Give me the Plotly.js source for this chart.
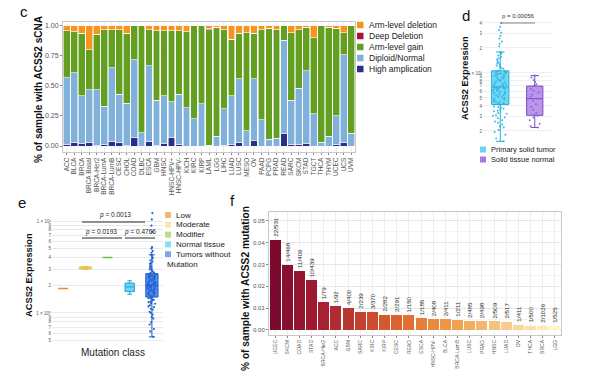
<!DOCTYPE html>
<html><head><meta charset="utf-8">
<script src="https://cdn.plot.ly/plotly-3.0.1.min.js"></script>
<style>html,body{margin:0;padding:0;background:#fff}#chart{width:593px;height:381px}</style>
</head><body><div id="chart"></div>
<script>
// ================= Panel c : sCNA fractions =================
const cnaCancers = ['ACC','BLCA','BRCA','BRCA Basal','BRCA-Her2','BRCA-LumA','BRCA-LumB','CESC','CHOL','COAD','DLBC','ESCA','GBM','HNSC','HNSC-HPV+','HNSC-HPV-','KICH','KIRC','KIRP','LAML','LGG','LIHC','LUAD','LUSC','MESO','OV','PAAD','PCPG','PRAD','READ','SARC','SKCM','STAD','TGCT','THCA','THYM','UCEC','UCS','UVM'];
const highAmp = [0.01,0.03,0.02,0.03,0.005,0.01,0.04,0.03,0.005,0.07,0,0.04,0.005,0.02,0.07,0.015,0,0,0,0,0,0.005,0.01,0.03,0,0.045,0,0,0,0.10,0.015,0.015,0.02,0,0,0,0.015,0.03,0];
const diploid = [0.56,0.58,0.40,0.44,0.465,0.32,0.61,0.40,0.35,0.65,0.11,0.63,0.375,0.40,0.30,0.415,0.32,0.225,0.35,0.005,0.08,0.305,0.41,0.53,0.125,0.515,0.22,0.055,0.065,0.78,0.365,0.465,0.605,0.27,0.03,0.08,0.235,0.73,0.105];
const armGain = [0.39,0.34,0.52,0.33,0.46,0.64,0.32,0.54,0.585,0.28,0.89,0.30,0.58,0.54,0.59,0.53,0.63,0.775,0.65,0.965,0.91,0.66,0.47,0.38,0.82,0.38,0.75,0.925,0.905,0.12,0.565,0.49,0.365,0.63,0.97,0.91,0.73,0.185,0.895];
const deepDel = [0,0,0,0,0,0,0,0,0,0,0,0,0,0,0,0,0,0,0,0.01,0,0,0,0,0,0,0,0,0,0,0,0,0,0,0,0,0,0,0];
const armDel  = [0.04,0.05,0.06,0.20,0.07,0.03,0.03,0.03,0.06,0,0,0.03,0.04,0.04,0.04,0.04,0.05,0,0,0.02,0.01,0.03,0.11,0.06,0.055,0.06,0.03,0.02,0.03,0,0.055,0.03,0.01,0.10,0,0.01,0.02,0.055,0];
const cnaNames = ['High amplication','Diploid/Normal','Arm-level gain','Deep Deletion','Arm-level deletion'];

// ================= Panel d : expression tumor vs normal =================
const dGroups = ['Primary solid tumor','Solid tissue normal'];
const dTumor = [1.5,1.62,1.8,1.95,2.05,2.2,2.28,2.4,2.52,2.6,2.7,2.85,2.9,3.05,3.1,3.22,3.3,3.45,3.5,3.62,3.7,3.8,3.88,3.95,4.1,
  4.25,4.3,4.45,4.5,4.62,4.8,4.85,5.0,5.1,5.2,5.35,5.4,5.55,5.6,5.75,5.9,5.95,6.1,6.2,6.3,6.4,6.5,6.55,6.6,6.7,
  6.85,7.0,7.1,7.25,7.4,7.5,7.7,7.9,8.0,8.2,8.35,8.6,8.8,8.9,9.1,9.3,9.5,9.6,9.7,9.9,10.0,10.1,10.2,10.4,10.5,
  10.7,11.2,11.5,11.9,12.3,12.6,13.1,13.4,13.9,14.5,15.0,15.6,16.2,16.8,17.4,17.9,21,22.5,24,26,28,30.5,33,36,40];
const dNormal = [2.2,2.3,2.45,2.7,2.9,3.05,3.1,3.3,3.6,3.9,4.2,4.6,4.9,5.2,5.5,5.8,6.1,6.4,6.9,7.1,7.3,7.8,8.2,8.8,9.3];
const dPValue = '0.00056';
const dTickVals = [2,3,4,5,6,7,8,9,10,20,30,40];
const dTickText = ['2','3','4','5','6','7','8','9','1 × 10¹','2','3','4'];

// ================= Panel e : expression by mutation class =================
const eClasses = ['Low','Moderate','Modifier','Normal tissue','Tumors without Mutation'];
const eLow = [1.85];
const eModerate = [2.98,3.06,3.12,3.2];
const eModifier = [4.0];
const eNormal = [1.6,1.64,1.69,1.76,1.86,1.92,1.99,2.06,2.13,2.18,2.24];
const eTumor = [0.55,0.63,0.67,0.75,0.79,0.87,0.9,0.96,1.0,1.03,1.09,1.11,1.16,1.18,1.21,1.26,1.27,1.31,1.33,1.35,1.39,1.4,1.44,1.45,1.48,
  1.5,1.53,1.54,1.58,1.6,1.61,1.65,1.67,1.69,1.73,1.74,1.76,1.8,1.81,1.83,1.87,1.88,1.9,1.93,1.94,1.96,1.97,1.98,1.99,2.0,
  2.02,2.06,2.07,2.11,2.12,2.17,2.19,2.21,2.26,2.27,2.32,2.33,2.38,2.39,2.43,2.44,2.49,2.5,2.53,2.54,2.58,2.59,2.62,2.63,2.65,
  2.71,2.75,2.83,2.89,2.98,3.04,3.13,3.21,3.28,3.42,3.49,3.63,3.74,3.9,3.98,4.16,4.29,4.52,4.73,5.02,5.2,7.6,8.9,10.4,12.2];
const ePValues = ['0.0013','0.0193','0.4766'];
const eTickVals = [0.5,0.6,0.7,0.8,0.9,1,2,3,4,5,6,7,8,9,10];
const eTickText = ['5','6','7','8','9','1 × 10⁰','2','3','4','5','6','7','8','9','1 × 10¹'];

// ================= Panel f : mutation frequency =================
const mutCancers = ['UCEC','SKCM','COAD','STAD','BRCA-Her2','ACC','GBM','SARC','KIRC','KIRP','CESC','READ','ESCA','HNSC-HPV-','BLCA','BRCA-LumB','LUSC','PRAD','HNSC','LUAD','OV','THCA','BRCA','LGG'];
const mutCounts = [22,14,11,10,1,1,4,2,3,2,2,1,1,2,2,1,2,2,2,2,1,1,2,1];
const mutTotals = [531,468,406,439,79,92,400,239,370,282,291,150,185,408,411,211,485,498,509,517,411,500,1026,525];

// ---------------- helpers ----------------
const W = 593, H = 381;
const px = x => x / W, py = y => 1 - y / H;
const shapes = [], annotations = [];
function ann(text, x, y, o) {
  annotations.push(Object.assign({xref:'paper', yref:'paper', x:px(x), y:py(y), text:text, showarrow:false,
    xanchor:'center', yanchor:'middle', font:{size:8, color:'#222'}}, o || {}));
}
function hline(x0, x1, y, color, w) {
  shapes.push({type:'line', xref:'paper', yref:'paper', x0:px(x0), x1:px(x1), y0:py(y), y1:py(y), line:{color:color, width:w}});
}
function legendBlock(names, colors, x, y0, dy, sq, fs) {
  names.forEach((n, i) => {
    const yc = y0 + i * dy;
    shapes.push({type:'rect', xref:'paper', yref:'paper', x0:px(x), x1:px(x + sq), y0:py(yc + sq / 2), y1:py(yc - sq / 2), fillcolor:colors[i], line:{width:0}});
    ann(n, x + sq + 3, yc, {xanchor:'left', font:{size:fs, color:'#222'}});
  });
}
function lerpColor(stops, t) {
  for (let i = 0; i < stops.length - 1; i++) {
    const [t0, c0] = stops[i], [t1, c1] = stops[i + 1];
    if (t >= t0 && t <= t1) {
      const f = (t - t0) / (t1 - t0);
      const a = [1,3,5].map(k => parseInt(c0.substr(k, 2), 16));
      const b = [1,3,5].map(k => parseInt(c1.substr(k, 2), 16));
      return 'rgb(' + a.map((v, j) => Math.round(v + (b[j] - v) * f)).join(',') + ')';
    }
  }
  return stops[stops.length - 1][1];
}

const traces = [];
const FONT = 'Liberation Sans, Arial, sans-serif';

// ---- panel c traces ----
const cSeries = [highAmp, diploid, armGain, deepDel, armDel];
const cColors = ['#2B2F8A', '#7FB1DA', '#63A021', '#A8123E', '#F7941D'];
cSeries.forEach((v, i) => traces.push({type:'bar', x:cnaCancers, y:v, name:cnaNames[i], xaxis:'x', yaxis:'y',
  marker:{color:cColors[i], line:{color:'#ffffff', width:0.6}}, hoverinfo:'skip'}));

// ---- panel d traces ----
traces.push({type:'box', y:dTumor, x0:0, name:dGroups[0], xaxis:'x2', yaxis:'y2', width:0.5,
  boxpoints:'all', jitter:0.9, pointpos:0, fillcolor:'rgba(88,208,243,0.85)', line:{color:'#22AEDD', width:1},
  marker:{color:'#25B3E2', size:2, opacity:0.9}});
traces.push({type:'box', y:dNormal, x0:1, name:dGroups[1], xaxis:'x2', yaxis:'y2', width:0.47,
  boxpoints:'all', jitter:0.8, pointpos:0, fillcolor:'rgba(180,138,234,0.9)', line:{color:'#7A4CC4', width:1},
  marker:{color:'#8A5DD0', size:2, opacity:0.9}});

// ---- panel e traces ----
const eData = [eLow, eModerate, eModifier, eNormal, eTumor];
const eFill = ['#F2B46E', '#F8D66A', '#9DD25E', '#6FD3F5', '#4E90EC'];
const eLine = ['#E28A3A', '#E8C04A', '#72BB38', '#1AA6D8', '#1F5BC4'];
const eWidth = [0.45, 0.55, 0.45, 0.42, 0.55];
eData.forEach((v, i) => traces.push({type:'box', y:v, x0:i, name:eClasses[i], xaxis:'x3', yaxis:'y3', width:eWidth[i],
  boxpoints: i === 4 ? 'all' : false, jitter:0.85, pointpos:0, fillcolor:eFill[i], line:{color:eLine[i], width: (i===0||i===2)?1.5:1},
  marker:{color:'#2563D0', size:2.2}}));

// ---- panel f trace ----
const mutFrac = mutCounts.map((c, i) => c / mutTotals[i]);
const fStops = [[0,'#7B0A2E'],[0.17,'#A81F33'],[0.42,'#D9602C'],[0.62,'#F09A44'],[0.82,'#F7CB8C'],[1,'#FEF6C0']];
const fColors = mutCancers.map((c, i) => lerpColor(fStops, i / (mutCancers.length - 1)));
traces.push({type:'bar', x:mutCancers, y:mutFrac, xaxis:'x4', yaxis:'y4', name:'mutation',
  marker:{color:fColors, line:{width:0}}, text:mutCounts.map((c, i) => c + '/' + mutTotals[i]),
  textposition:'outside', textangle:-90, constraintext:'none', cliponaxis:false,
  textfont:{size:6.2, color:'#333', family:FONT}, hoverinfo:'skip'});

// ---- legends (manual, compact) ----
legendBlock(cnaNames.slice().reverse(), cColors.slice().reverse(), 357, 25, 11, 6.5, 8.5);
legendBlock(dGroups, ['#6DD3F2', '#A87BE3'], 480, 149.5, 10, 6, 7.5);
legendBlock(eClasses.slice(0, 4).concat(['Tumors without']), ['#F0B878', '#FBE7A8', '#B5E08A', '#88DDF5', '#7BA7F0'], 165, 215, 9.8, 6, 8);
ann('Mutation', 165, 264, {xanchor:'left', font:{size:8, color:'#222'}});

// ---- titles / labels ----
ann('c', 24, 12, {font:{size:15, color:'#111'}});
ann('d', 466, 15, {font:{size:15, color:'#111'}});
ann('e', 22, 202, {font:{size:15, color:'#111'}});
ann('f', 232, 201, {font:{size:15, color:'#111'}});
ann('<b>% of sample with ACSS2 sCNA</b>', 38, 90, {textangle:-90, font:{size:10, color:'#111'}});
ann('<b>ACSS2 Expression</b>', 465, 78, {textangle:-90, font:{size:9.3, color:'#111'}});
ann('<b>ACSS2 Expression</b>', 29, 275, {textangle:-90, font:{size:9.3, color:'#111'}});
ann('<b>% of sample with ACSS2 mutation</b>', 245, 289, {textangle:-90, font:{size:10.2, color:'#111'}});
ann('Mutation class', 113, 352, {font:{size:10, color:'#222'}});

// ---- p-values ----
ann('p = ' + dPValue, 518, 16, {font:{size:6, color:'#333'}});
hline(500, 535, 23, '#666', 0.8);
ann('<i>p</i> = ' + ePValues[0], 115, 215, {font:{size:6.5, color:'#222'}});
hline(82, 145, 222, '#111', 0.9);
ann('<i>p</i> = ' + ePValues[1], 101, 232, {font:{size:6.5, color:'#222'}});
hline(82, 122, 238, '#111', 0.9);
ann('<i>p</i> = ' + ePValues[2], 140, 232, {font:{size:6.5, color:'#222'}});
hline(125, 155, 238, '#111', 0.9);

const gridC = '#ededed', lineC = '#c8c8c8', tickC = '#555';
const layout = {
  width:W, height:H, margin:{l:0, r:0, t:0, b:0}, paper_bgcolor:'#fff', plot_bgcolor:'#fff',
  showlegend:false, barmode:'stack', bargap:0.1, boxmode:'overlay', font:{family:FONT, color:'#222'},
  xaxis:{domain:[px(63), px(355)], anchor:'y', type:'category', range:[-0.5, 38.5], tickangle:-90,
    tickmode:'linear', tick0:0, dtick:1,
    tickfont:{size:6.5, color:tickC}, ticks:'outside', ticklen:2, tickcolor:'#888', showline:true, mirror:true,
    linecolor:lineC, showgrid:true, gridcolor:gridC},
  yaxis:{domain:[py(152), py(22)], anchor:'x', range:[-0.05, 1.033], tick0:0, dtick:0.25, tickformat:'.2f',
    tickfont:{size:7, color:tickC}, ticks:'outside', ticklen:2, tickcolor:'#888', showline:true, mirror:true,
    linecolor:lineC, gridcolor:gridC, zeroline:false},
  xaxis2:{domain:[px(483), px(552)], anchor:'y2', range:[-0.5, 1.5], showticklabels:false, showgrid:false, zeroline:false, showline:false},
  yaxis2:{domain:[py(145), py(18)], anchor:'x2', type:'log', range:[0.132, 1.662], tickvals:dTickVals, ticktext:dTickText,
    tickfont:{size:4.5, color:tickC}, gridcolor:'#efefef', showline:false, zeroline:false, ticks:''},
  xaxis3:{domain:[px(52), px(163)], anchor:'y3', range:[-0.5, 4.5], showticklabels:false, showgrid:false, zeroline:false, showline:false},
  yaxis3:{domain:[py(345), py(205)], anchor:'x3', type:'log', range:[-0.348, 1.174], tickvals:eTickVals, ticktext:eTickText,
    tickfont:{size:4.5, color:tickC}, gridcolor:'#e9e9e9', showline:false, zeroline:false, ticks:''},
  xaxis4:{domain:[px(269), px(561)], anchor:'y4', type:'category', tickangle:-90, tickmode:'linear', tick0:0, dtick:1,
    tickfont:{size:5, color:tickC},
    ticks:'outside', ticklen:2, tickcolor:'#888', showline:true, mirror:true, linecolor:lineC, showgrid:true, gridcolor:gridC},
  yaxis4:{domain:[py(335), py(212)], anchor:'x4', range:[-0.0023, 0.0541], tick0:0, dtick:0.01, tickformat:'.2f',
    tickfont:{size:6, color:tickC}, ticks:'outside', ticklen:2, tickcolor:'#888', showline:true, mirror:true,
    linecolor:lineC, gridcolor:'#e6e6e6', zeroline:false, minor:{showgrid:true, gridcolor:'#f4f4f4', dtick:0.005}},
  shapes:shapes, annotations:annotations
};
Plotly.newPlot('chart', traces, layout, {staticPlot:true, displayModeBar:false});
</script></body></html>
